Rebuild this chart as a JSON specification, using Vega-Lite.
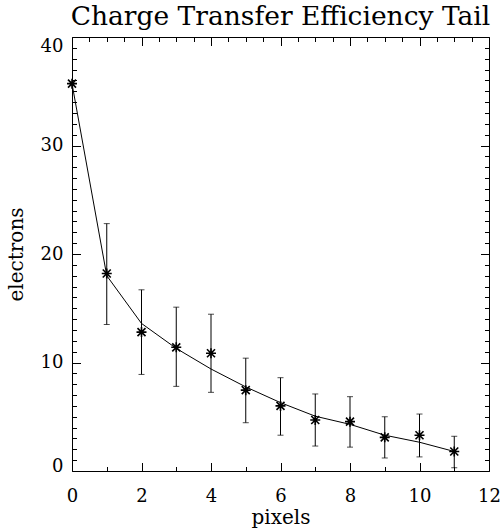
{
  "$schema": "https://vega.github.io/schema/vega-lite/v6.json",
  "width": 417,
  "height": 434,
  "autosize": {"type": "none"},
  "padding": {"left": 72, "top": 37, "right": 14, "bottom": 60},
  "background": "white",
  "title": {
    "text": "Charge Transfer Efficiency Tail",
    "font": "DejaVu Serif",
    "fontSize": 26.5,
    "fontWeight": "normal",
    "color": "black",
    "anchor": "middle",
    "frame": "group",
    "baseline": "alphabetic",
    "offset": 12,
    "dy": 27
  },
  "config": {
    "view": {"stroke": "black", "strokeWidth": 1},
    "axis": {
      "labelFont": "DejaVu Serif",
      "titleFont": "DejaVu Serif",
      "labelColor": "black",
      "titleColor": "black",
      "tickColor": "black",
      "grid": false,
      "domain": false,
      "labelFontSize": 18,
      "titleFontSize": 20,
      "titleFontWeight": "normal"
    }
  },
  "data": {
    "values": [
      {"x": 0, "y": 35.7, "lo": null, "hi": null, "fit": 35.7},
      {"x": 1, "y": 18.2, "lo": 13.5, "hi": 22.8, "fit": 18.0},
      {"x": 2, "y": 12.8, "lo": 8.9, "hi": 16.7, "fit": 13.6},
      {"x": 3, "y": 11.4, "lo": 7.8, "hi": 15.1, "fit": 11.3},
      {"x": 4, "y": 10.85, "lo": 7.25, "hi": 14.45, "fit": 9.4},
      {"x": 5, "y": 7.45, "lo": 4.45, "hi": 10.4, "fit": 7.75},
      {"x": 6, "y": 6.0, "lo": 3.3, "hi": 8.6, "fit": 6.3},
      {"x": 7, "y": 4.7, "lo": 2.3, "hi": 7.1, "fit": 5.05},
      {"x": 8, "y": 4.55, "lo": 2.2, "hi": 6.85, "fit": 4.3},
      {"x": 9, "y": 3.1, "lo": 1.2, "hi": 5.0, "fit": 3.3},
      {"x": 10, "y": 3.3, "lo": 1.3, "hi": 5.25, "fit": 2.65},
      {"x": 11, "y": 1.8, "lo": 0.3, "hi": 3.2, "fit": 1.8}
    ]
  },
  "resolve": {
    "scale": {"x": "shared", "y": "shared"},
    "axis": {"x": "independent", "y": "independent"}
  },
  "layer": [
    {
      "mark": {"type": "rule", "color": "black", "strokeWidth": 1},
      "encoding": {
        "x": {
          "field": "x", "type": "quantitative",
          "scale": {"domain": [0, 12], "nice": false, "zero": false},
          "axis": {
            "orient": "bottom",
            "title": "pixels",
            "format": "d",
            "values": [0,0.5,1,1.5,2,2.5,3,3.5,4,4.5,5,5.5,6,6.5,7,7.5,8,8.5,9,9.5,10,10.5,11,11.5,12],
            "labelExpr": "datum.value % 2 === 0 ? datum.label : ''",
            "tickSize": {"condition": {"test": "datum.value % 2 === 0", "value": -8.5}, "value": -4.5},
            "labelPadding": 24.5,
            "labelFlush": false,
            "labelOverlap": false,
            "titleX": 208.5,
            "titleY": 52,
            "titleBaseline": "alphabetic",
            "titleAnchor": "middle"
          }
        },
        "y": {
          "field": "lo", "type": "quantitative",
          "scale": {"domain": [0, 40], "nice": false, "zero": false},
          "axis": {
            "orient": "left",
            "title": "electrons",
            "format": "d",
            "values": [0,1,2,3,4,5,6,7,8,9,10,11,12,13,14,15,16,17,18,19,20,21,22,23,24,25,26,27,28,29,30,31,32,33,34,35,36,37,38,39,40],
            "labelExpr": "datum.value % 10 === 0 ? datum.label : ''",
            "tickSize": {"condition": {"test": "datum.value % 10 === 0", "value": -8.5}, "value": -4.5},
            "labelPadding": 17.5,
            "labelFlush": false,
            "labelBaseline": {
              "condition": [
                {"test": "datum.value === 40", "value": "top"},
                {"test": "datum.value === 0", "value": "alphabetic"}
              ],
              "value": "middle"
            },
            "labelOverlap": false,
            "titleAngle": -90,
            "titleX": -50,
            "titleY": 217,
            "titleAlign": "center",
            "titleBaseline": "alphabetic"
          }
        },
        "y2": {"field": "hi"}
      }
    },
    {
      "mark": {"type": "tick", "orient": "horizontal", "color": "black", "size": 6, "thickness": 1},
      "encoding": {
        "x": {
          "field": "x", "type": "quantitative",
          "axis": {
            "orient": "top",
            "title": null,
            "labels": false,
            "values": [0,0.5,1,1.5,2,2.5,3,3.5,4,4.5,5,5.5,6,6.5,7,7.5,8,8.5,9,9.5,10,10.5,11,11.5,12],
            "tickSize": {"condition": {"test": "datum.value % 2 === 0", "value": -8.5}, "value": -4.5}
          }
        },
        "y": {
          "field": "hi", "type": "quantitative",
          "axis": {
            "orient": "right",
            "title": null,
            "labels": false,
            "values": [0,1,2,3,4,5,6,7,8,9,10,11,12,13,14,15,16,17,18,19,20,21,22,23,24,25,26,27,28,29,30,31,32,33,34,35,36,37,38,39,40],
            "tickSize": {"condition": {"test": "datum.value % 10 === 0", "value": -8.5}, "value": -4.5}
          }
        }
      }
    },
    {
      "mark": {"type": "tick", "orient": "horizontal", "color": "black", "size": 6, "thickness": 1},
      "encoding": {
        "x": {"field": "x", "type": "quantitative", "axis": null},
        "y": {"field": "lo", "type": "quantitative", "axis": null}
      }
    },
    {
      "mark": {"type": "line", "color": "black", "strokeWidth": 1},
      "encoding": {
        "x": {"field": "x", "type": "quantitative", "axis": null},
        "y": {"field": "fit", "type": "quantitative", "axis": null}
      }
    },
    {
      "mark": {
        "type": "point",
        "shape": "M0,-1L0,1M-1,0L1,0M-0.8,-0.8L0.8,0.8M-0.8,0.8L0.8,-0.8",
        "filled": false,
        "color": "black",
        "size": 100,
        "strokeWidth": 1.6,
        "opacity": 1
      },
      "encoding": {
        "x": {"field": "x", "type": "quantitative", "axis": null},
        "y": {"field": "y", "type": "quantitative", "axis": null}
      }
    }
  ]
}
